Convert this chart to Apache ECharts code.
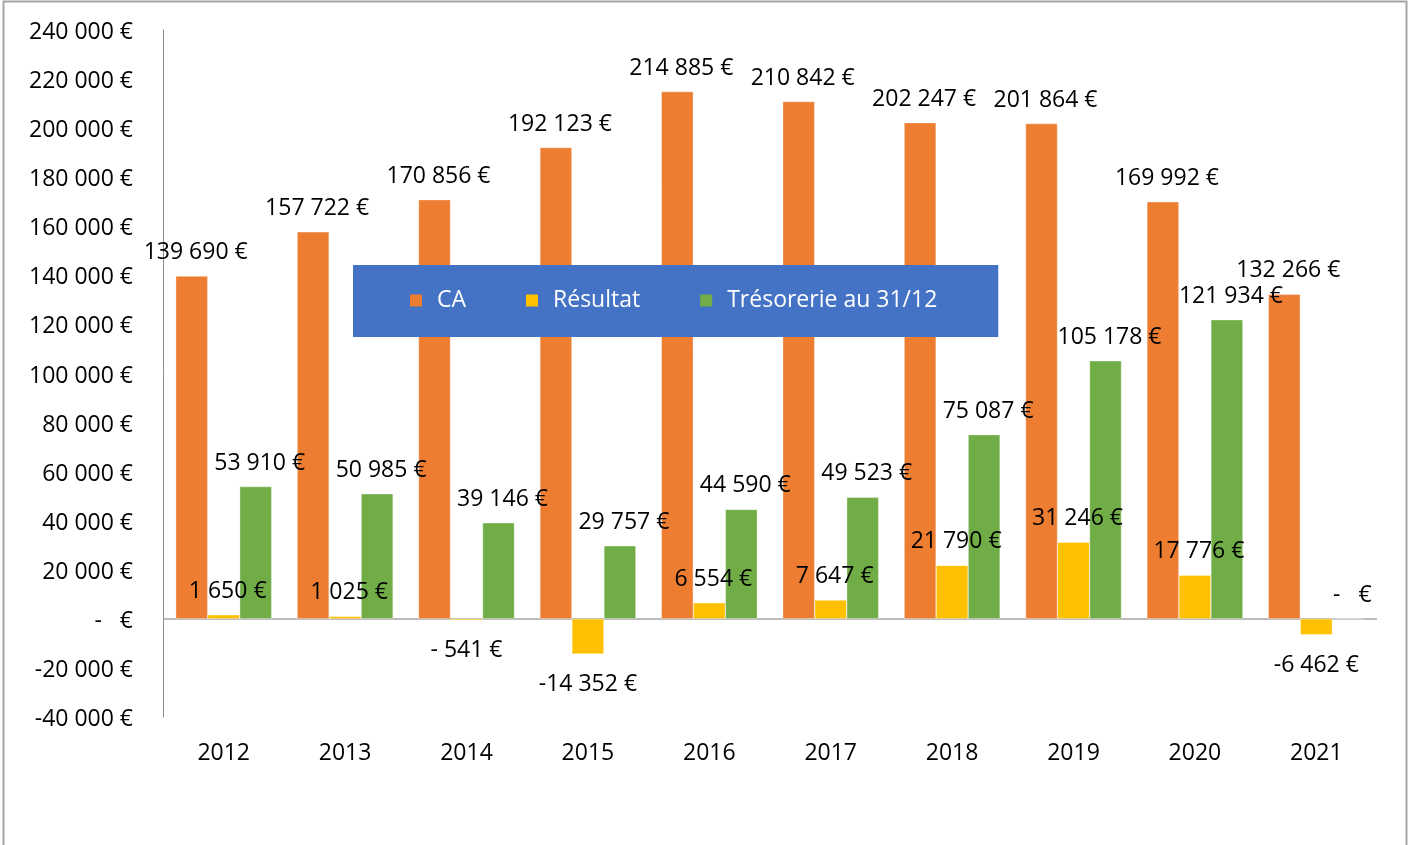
<!DOCTYPE html>
<html><head><meta charset="utf-8">
<script src="https://cdn.jsdelivr.net/npm/echarts@6/dist/echarts.min.js"></script>
<style>html,body{margin:0;padding:0;background:#fff}#c{width:1410px;height:845px}</style>
</head><body><div id="c"></div>
<script>
const categories = ['2012','2013','2014','2015','2016','2017','2018','2019','2020','2021'];
const caValues = [139690,157722,170856,192123,214885,210842,202247,201864,169992,132266];
const resultatValues = [1650,1025,-541,-14352,6554,7647,21790,31246,17776,-6462];
const tresorerieValues = [53910,50985,39146,29757,44590,49523,75087,105178,121934,0];
const seriesNames = ['CA','Résultat','Trésorerie au 31/12'];
const colors = ['#ED7D31','#FFC000','#70AD47'];

function fmt(v){
  if (v === 0) return '-   €';
  const a = Math.abs(v).toString().replace(/\B(?=(\d{3})+(?!\d))/g, ' ');
  if (v < 0) return (Math.abs(v) < 1000 ? '- ' : '-') + a + ' €';
  return a + ' €';
}
const FONT = 'Open Sans';
function mkData(arr){
  return arr.map(v => v < 0
    ? {value: v, label: {position: 'bottom', distance: 19, offset: [0,0]}}
    : {value: v});
}
function mkSeries(i, arr){
  return {
    name: seriesNames[i], type: 'bar', barWidth: 32, barGap: '0%',
    itemStyle: {color: colors[i], borderColor: 'rgba(255,255,255,0.7)', borderWidth: 0.5},
    label: {show: true, position: 'top', distance: 12, offset: [4,0], color: '#000',
      fontFamily: FONT, fontSize: 23, formatter: p => fmt(p.value)},
    data: mkData(arr)
  };
}
const chart = echarts.init(document.getElementById('c'), null, {renderer: 'canvas'});
const s0 = mkSeries(0, caValues);
s0.markLine = {silent: true, symbol: 'none', label: {show: false},
  lineStyle: {color: '#A6A6A6', width: 1.5, type: 'solid'}, data: [{yAxis: 0}], z: 1};
chart.setOption({
  animation: false,
  color: colors,
  graphic: [{type: 'rect', silent: true, shape: {x: 3.5, y: 1.5, width: 1403, height: 900},
    style: {fill: 'none', stroke: '#A6A6A6', lineWidth: 2}}],
  legend: {
    data: seriesNames, left: 353, top: 265, orient: 'horizontal',
    backgroundColor: '#4472C4', padding: [24, 61, 25, 57], itemGap: 60,
    itemWidth: 12, itemHeight: 12, icon: 'rect',
    itemStyle: {borderWidth: 0},
    textStyle: {color: '#fff', fontFamily: FONT, fontSize: 23, padding: [4,0,0,10]}
  },
  grid: {left: 163, right: 33, top: 30, bottom: 128, containLabel: false},
  xAxis: {
    type: 'category', data: categories,
    axisLine: {show: false, onZero: false}, axisTick: {show: false},
    axisLabel: {color: '#000', fontFamily: FONT, fontSize: 23, margin: 25}
  },
  yAxis: {
    type: 'value', min: -40000, max: 240000, interval: 20000,
    axisLine: {show: true, lineStyle: {color: '#8C8C8C', width: 1}},
    axisTick: {show: false}, splitLine: {show: false},
    axisLabel: {color: '#000', fontFamily: FONT, fontSize: 23, margin: 30,
      formatter: v => '{a|' + fmt(v) + '}',
      rich: {a: {fontFamily: FONT, fontSize: 23, color: '#000', padding: [5,0,0,0]}}}
  },
  series: [s0, mkSeries(1, resultatValues), mkSeries(2, tresorerieValues)]
});
</script></body></html>
